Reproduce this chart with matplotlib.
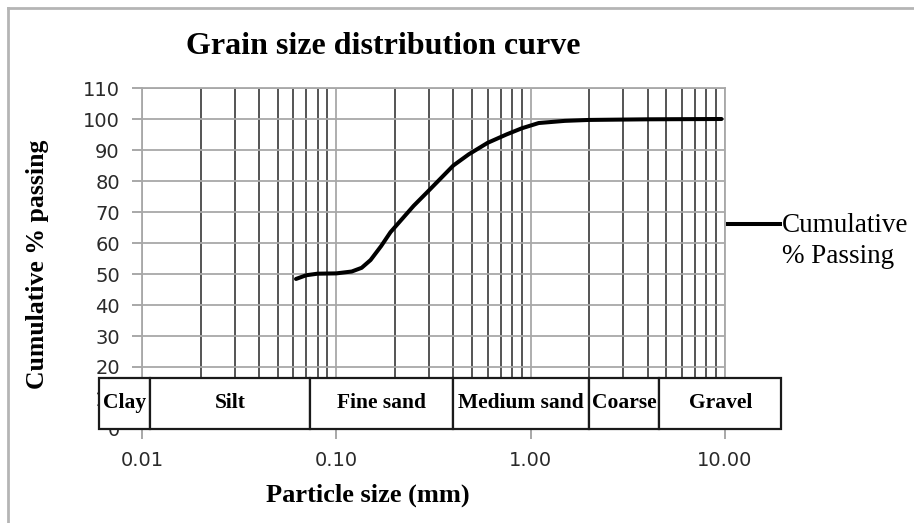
import matplotlib
matplotlib.use("Agg")
import matplotlib.pyplot as plt
from matplotlib.patches import Rectangle
from matplotlib.lines import Line2D
from matplotlib.ticker import FixedLocator, LogLocator, NullFormatter
import numpy as np

# ---- data ----
particle_size = [0.062, 0.07, 0.08, 0.1, 0.12, 0.135, 0.15, 0.17, 0.19, 0.25, 0.3,
                 0.4, 0.48, 0.6, 0.75, 0.9, 1.1, 1.5, 2.0, 4.0, 9.6]
cum_passing = [48.4, 49.6, 50.1, 50.2, 50.8, 52.0, 54.5, 59.0, 63.5, 72.0, 77.0,
               85.0, 88.6, 92.3, 95.0, 97.0, 98.7, 99.4, 99.7, 99.9, 100.0]

class_names = ["Clay", "Silt", "Fine sand", "Medium sand", "Coarse", "Gravel"]
class_bounds = [0.006, 0.011, 0.073, 0.4, 2.0, 4.6, 19.5]
class_box_top = 16.5

x_ticks = [0.01, 0.1, 1, 10]
x_tick_labels = ["0.01", "0.10", "1.00", "10.00"]
y_ticks = list(range(0, 111, 10))

W, H = 914, 523
fig = plt.figure(figsize=(W / 100, H / 100), dpi=100)
ax = fig.add_axes([142 / W, 1 - 429 / H, (725 - 142) / W, (429 - 88) / H])

ax.set_xscale("log")
ax.set_xlim(0.01, 10)
ax.set_ylim(0, 110)

ax.plot(particle_size, cum_passing, color="black", lw=2.9, solid_capstyle="round",
        solid_joinstyle="round", zorder=4)

ax.xaxis.set_major_locator(FixedLocator(x_ticks))
ax.set_xticklabels(x_tick_labels)
ax.xaxis.set_minor_locator(LogLocator(base=10, subs=np.arange(2, 10)))
ax.xaxis.set_minor_formatter(NullFormatter())
ax.set_yticks(y_ticks)

ax.grid(which="major", axis="both", color="#a8a8a8", lw=1.3)
ax.grid(which="minor", axis="x", color="#262626", lw=1.1)
ax.set_axisbelow(True)

ax.tick_params(axis="both", which="major", length=7, width=1.2, color="#999999",
               labelsize=14, labelcolor="#2a2a2a")
ax.tick_params(axis="y", pad=9)
ax.tick_params(axis="x", pad=9)
ax.tick_params(axis="x", which="minor", length=0)
for t in ax.get_xticklabels() + ax.get_yticklabels():
    t.set_family("DejaVu Sans")

for s in ax.spines.values():
    s.set_color("#a8a8a8")
    s.set_linewidth(1.3)

# classification boxes
for name, lo, hi in zip(class_names, class_bounds[:-1], class_bounds[1:]):
    r = Rectangle((lo, 0), hi - lo, class_box_top, facecolor="white",
                  edgecolor="#1a1a1a", lw=1.6, clip_on=False, zorder=5)
    ax.add_patch(r)
    ax.text(np.sqrt(lo * hi), class_box_top / 2, name, ha="center", va="center",
            fontsize=15.5, fontweight="bold", family="Liberation Serif",
            zorder=6, clip_on=False)

# titles
fig.text(383 / W, 1 - 46 / H, "Grain size distribution curve", ha="center",
         va="center", fontsize=23, fontweight="bold", family="Liberation Serif")
fig.text(368 / W, 1 - 495 / H, "Particle size (mm)", ha="center", va="center",
         fontsize=19, fontweight="bold", family="Liberation Serif")
fig.text(38 / W, 1 - 264 / H, "Cumulative % passing", ha="center", va="center",
         rotation=90, fontsize=18.5, fontweight="bold", family="Liberation Serif")

# legend
fig.add_artist(Line2D([728 / W, 780 / W], [1 - 224 / H, 1 - 224 / H],
                      color="black", lw=2.9, transform=fig.transFigure))
fig.text(782 / W, 1 - 241 / H, "Cumulative\n% Passing", ha="left", va="center",
         fontsize=19.5, family="Liberation Serif", linespacing=1.3)

# chart area border (top and left)
fig.add_artist(Line2D([8 / W, 8 / W], [0, 1 - 8 / H], color="#b5b5b5", lw=2,
                      transform=fig.transFigure))
fig.add_artist(Line2D([8 / W, 1], [1 - 8 / H, 1 - 8 / H], color="#b5b5b5", lw=2,
                      transform=fig.transFigure))

fig.savefig("out.png", dpi=100)
